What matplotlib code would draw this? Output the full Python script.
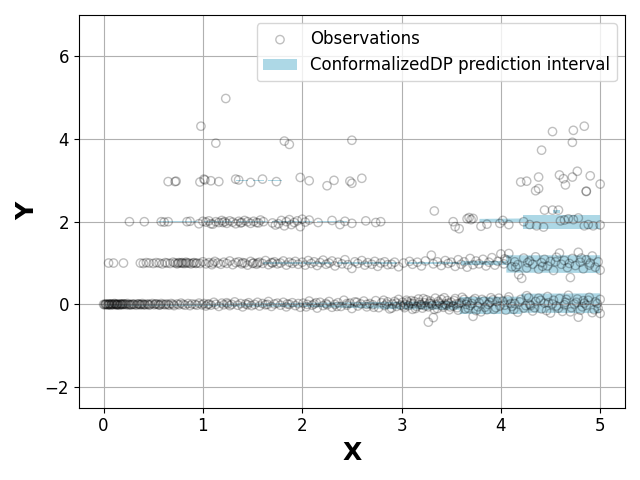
import numpy as np
import matplotlib
matplotlib.use("Agg")
import matplotlib.pyplot as plt

# observations, grouped by the level they sit on
obs_level0 = [
    (0.00, 0.00), (0.01, -0.01), (0.02, 0.01), (0.03, 0.00), (0.04, -0.01), (0.05, 0.01), (0.06, 0.00),
    (0.07, -0.02), (0.08, 0.01), (0.09, 0.00), (0.10, -0.01), (0.11, 0.02), (0.12, 0.00), (0.13, -0.01),
    (0.14, 0.01), (0.15, 0.00), (0.16, -0.02), (0.17, 0.01), (0.18, 0.00), (0.19, -0.01), (0.20, 0.01),
    (0.21, 0.00), (0.23, -0.01), (0.24, 0.02), (0.26, 0.00), (0.27, -0.01), (0.29, 0.01), (0.31, 0.00),
    (0.33, -0.02), (0.34, 0.01), (0.36, 0.00), (0.37, -0.01), (0.39, 0.02), (0.41, 0.00), (0.42, -0.01),
    (0.44, 0.01), (0.46, -0.02), (0.47, 0.00), (0.49, 0.02), (0.51, -0.01), (0.53, 0.01), (0.55, 0.00),
    (0.56, -0.02), (0.58, 0.02), (0.60, 0.00), (0.62, -0.01), (0.63, 0.01), (0.66, -0.02), (0.68, 0.02),
    (0.70, 0.00), (0.71, -0.03), (0.74, 0.01), (0.76, -0.01), (0.78, 0.03), (0.80, 0.00), (0.82, -0.02),
    (0.85, 0.02), (0.87, -0.03), (0.89, 0.01), (0.92, 0.00), (0.94, -0.02), (0.96, 0.03), (0.99, -0.01),
    (0.02, 0.00), (0.05, -0.01), (0.08, 0.00), (0.11, 0.01), (0.14, -0.01), (0.17, 0.00), (0.22, 0.01),
    (0.25, -0.01), (0.30, 0.00), (0.35, 0.01), (0.40, -0.01), (0.45, 0.00), (0.52, 0.01), (0.57, -0.01),
    (0.65, 0.00), (0.06, 0.01), (0.13, 0.00), (0.19, 0.01), (0.28, -0.01), (0.38, 0.00),
    (1.01, 0.02), (1.03, -0.04), (1.06, 0.01), (1.08, -0.02), (1.11, 0.05), (1.13, 0.00), (1.16, -0.05),
    (1.19, 0.03), (1.21, -0.01), (1.24, 0.04), (1.27, -0.03), (1.29, 0.00), (1.32, 0.06), (1.35, -0.02),
    (1.38, 0.02), (1.40, -0.06), (1.43, 0.01), (1.46, 0.04), (1.49, -0.03), (1.52, 0.00), (1.55, 0.05),
    (1.57, -0.04), (1.60, 0.02), (1.63, -0.01), (1.66, 0.07), (1.69, -0.05), (1.72, 0.01), (1.75, 0.03),
    (1.78, -0.02), (1.81, 0.05), (1.84, -0.06), (1.87, 0.00), (1.90, 0.04), (1.93, -0.03), (1.96, 0.02),
    (1.98, -0.07), (1.05, 0.00), (1.25, 0.01), (1.45, -0.01), (1.65, 0.00), (1.85, 0.01),
    (2.01, 0.03), (2.04, -0.06), (2.07, 0.08), (2.10, -0.02), (2.12, 0.01), (2.15, -0.09), (2.18, 0.05),
    (2.21, -0.03), (2.24, 0.02), (2.27, 0.07), (2.30, -0.07), (2.33, 0.00), (2.36, 0.04), (2.39, -0.05),
    (2.42, 0.10), (2.45, -0.02), (2.48, 0.03), (2.50, -0.10), (2.53, 0.06), (2.56, -0.04), (2.59, 0.01),
    (2.62, 0.08), (2.65, -0.06), (2.68, 0.02), (2.71, -0.01), (2.74, 0.09), (2.77, -0.08), (2.80, 0.04),
    (2.83, -0.03), (2.86, 0.06), (2.88, -0.11), (2.91, 0.01), (2.93, 0.07), (2.95, -0.05), (2.97, 0.12),
    (2.99, -0.02), (2.05, 0.00), (2.25, -0.01), (2.45, 0.02), (2.65, 0.00), (2.85, 0.01), (2.95, 0.03),
    (2.14, 0.04), (2.35, -0.05), (2.55, 0.05), (2.72, -0.07), (2.82, 0.10), (2.90, -0.09),
    (3.01, 0.05), (3.03, -0.08), (3.05, 0.10), (3.07, -0.03), (3.09, 0.02), (3.11, -0.12), (3.13, 0.07),
    (3.15, -0.05), (3.17, 0.13), (3.19, 0.00), (3.21, -0.09), (3.23, 0.04), (3.25, 0.11), (3.27, -0.43),
    (3.27, -0.06), (3.29, 0.08), (3.31, -0.02), (3.32, -0.32), (3.34, 0.15), (3.36, -0.10), (3.38, 0.03),
    (3.40, 0.12), (3.42, -0.07), (3.44, 0.01), (3.46, 0.09), (3.48, -0.13), (3.50, 0.05), (3.52, -0.04),
    (3.54, 0.14), (3.56, -0.08), (3.58, 0.02), (3.61, 0.17), (3.64, -0.11), (3.66, 0.06), (3.69, -0.03),
    (3.72, -0.29), (3.72, 0.10), (3.75, -0.15), (3.78, 0.04), (3.81, 0.12), (3.84, -0.07), (3.87, 0.00),
    (3.90, 0.16), (3.93, -0.12), (3.96, 0.07), (3.99, -0.04), (3.04, 0.00), (3.12, 0.02), (3.20, -0.01),
    (3.28, 0.03), (3.35, 0.00), (3.45, -0.02), (3.55, 0.01), (3.65, 0.00),
    (3.02, -0.04), (3.06, 0.06), (3.10, 0.09), (3.14, -0.10), (3.18, 0.05), (3.22, 0.14), (3.24, -0.04),
    (3.30, 0.02), (3.33, -0.12), (3.37, 0.07), (3.41, -0.03), (3.43, 0.16), (3.47, 0.03), (3.49, -0.06),
    (3.53, 0.09), (3.57, -0.14), (3.60, 0.04), (3.63, 0.12), (3.67, -0.09), (3.71, 0.02), (3.74, 0.14),
    (3.77, -0.06), (3.80, -0.18), (3.83, 0.08), (3.86, -0.13), (3.89, 0.05), (3.92, 0.11), (3.95, -0.08),
    (3.98, 0.15),
    (4.02, 0.08), (4.05, -0.14), (4.08, 0.18), (4.11, -0.05), (4.14, 0.02), (4.17, -0.19), (4.20, 0.12),
    (4.23, -0.09), (4.26, 0.21), (4.29, 0.00), (4.32, -0.16), (4.35, 0.07), (4.38, 0.15), (4.41, -0.11),
    (4.44, 0.03), (4.47, 0.19), (4.50, -0.21), (4.53, 0.10), (4.56, -0.04), (4.59, 0.14), (4.62, -0.17),
    (4.65, 0.05), (4.68, 0.22), (4.71, -0.08), (4.74, 0.01), (4.77, 0.13), (4.78, -0.31), (4.80, -0.14),
    (4.83, 0.09), (4.86, -0.02), (4.89, 0.17), (4.92, -0.20), (4.95, 0.06), (4.98, -0.10), (5.00, 0.12),
    (5.00, -0.22), (4.10, 0.02), (4.30, -0.03), (4.48, 0.04), (4.64, -0.01), (4.84, 0.03),
    (4.04, -0.02), (4.07, 0.11), (4.13, -0.12), (4.19, 0.06), (4.25, -0.03), (4.28, 0.16), (4.34, -0.08),
    (4.40, 0.10), (4.46, -0.15), (4.52, 0.01), (4.58, -0.09), (4.66, 0.12), (4.70, -0.18), (4.76, 0.05),
    (4.82, -0.06), (4.88, 0.10), (4.94, -0.13), (4.97, 0.02),
]

obs_level1 = [
    (0.05, 1.00), (0.10, 1.00), (0.20, 1.00),
    (0.37, 1.00), (0.40, 0.99), (0.43, 1.01), (0.46, 1.00), (0.50, 0.99), (0.53, 1.01), (0.56, 1.00),
    (0.59, 0.98), (0.62, 1.01), (0.64, 1.00), (0.67, 0.99), (0.70, 1.02), (0.72, 1.00), (0.74, 0.98),
    (0.76, 1.01), (0.78, 1.00), (0.80, 0.99), (0.83, 1.02), (0.86, 1.00), (0.88, 0.98), (0.91, 1.01),
    (0.94, 1.00), (0.97, 0.99), (0.75, 1.00), (0.79, 1.01), (0.82, 0.99), (0.84, 1.00), (0.90, 1.00),
    (0.93, 0.99),
    (1.00, 1.03), (1.03, 0.98), (1.06, 1.01), (1.09, 0.96), (1.12, 1.04), (1.15, 1.00), (1.18, 0.97),
    (1.21, 1.02), (1.24, 0.99), (1.27, 1.05), (1.30, 0.96), (1.33, 1.01), (1.36, 1.03), (1.39, 0.98),
    (1.42, 1.00), (1.45, 0.95), (1.48, 1.04), (1.51, 1.00), (1.54, 0.97), (1.57, 1.02), (1.60, 0.99),
    (1.63, 1.06), (1.66, 0.96), (1.69, 1.01), (1.72, 1.03), (1.75, 0.98), (1.78, 1.00), (1.81, 1.05),
    (1.84, 0.95), (1.87, 1.02), (1.90, 0.99), (1.93, 1.04), (1.96, 0.97), (1.10, 1.00), (1.40, 1.01),
    (1.50, 0.99), (1.55, 1.00), (1.70, 1.00),
    (2.00, 1.02), (2.03, 0.95), (2.06, 1.06), (2.09, 0.99), (2.12, 1.03), (2.15, 0.94), (2.18, 1.01),
    (2.21, 1.07), (2.24, 0.97), (2.27, 1.00), (2.30, 1.05), (2.33, 0.93), (2.36, 1.02), (2.40, 0.98),
    (2.43, 1.08), (2.46, 0.96), (2.50, 0.87), (2.53, 1.03), (2.56, 0.99), (2.60, 1.06), (2.63, 0.95),
    (2.66, 1.01), (2.70, 0.97), (2.73, 1.04), (2.76, 0.92), (2.79, 1.00), (2.83, 1.03), (2.86, 0.96),
    (2.90, 0.97), (2.93, 1.02), (2.97, 0.91),
    (3.02, 1.00), (3.08, 1.04), (3.11, 0.97), (3.16, 1.02), (3.20, 0.93), (3.24, 1.05), (3.30, 1.19),
    (3.32, 0.98), (3.36, 1.03), (3.40, 0.94), (3.44, 1.06), (3.47, 0.99), (3.50, 1.02), (3.54, 0.92),
    (3.57, 1.08), (3.60, 0.97), (3.63, 1.03), (3.66, 0.90), (3.69, 1.11), (3.72, 0.96), (3.75, 1.05),
    (3.78, 0.98), (3.82, 1.09), (3.85, 0.93), (3.88, 1.02), (3.91, 1.13), (3.94, 0.95), (3.97, 1.04),
    (4.00, 1.22), (4.03, 0.98), (4.06, 1.07), (4.08, 1.23), (4.11, 0.91), (4.14, 1.03), (4.17, 0.96),
    (4.18, 0.72), (4.21, 0.63), (4.23, 1.12), (4.26, 0.88), (4.29, 1.05), (4.32, 0.97), (4.35, 1.15),
    (4.38, 0.85), (4.41, 1.01), (4.44, 1.09), (4.47, 0.93), (4.50, 1.04), (4.53, 0.82), (4.56, 1.14),
    (4.59, 1.24), (4.61, 0.97), (4.64, 1.06), (4.67, 0.89), (4.70, 0.65), (4.72, 1.11), (4.75, 0.94),
    (4.78, 1.26), (4.80, 1.02), (4.83, 0.86), (4.86, 1.08), (4.89, 0.95), (4.92, 1.17), (4.95, 0.90),
    (4.98, 1.03), (5.00, 0.83),
    (4.04, 1.10), (4.15, 0.90), (4.27, 1.01), (4.42, 0.92), (4.55, 1.03), (4.69, 0.99), (4.81, 1.12),
    (4.90, 1.00),
]

obs_level2 = [
    (0.26, 2.00), (0.41, 2.00), (0.58, 2.00), (0.61, 1.99), (0.65, 2.00), (0.84, 2.00), (0.87, 2.01),
    (0.96, 1.95),
    (1.00, 2.01), (1.03, 1.99), (1.06, 2.02), (1.08, 1.95), (1.10, 1.94), (1.13, 2.00), (1.16, 1.98),
    (1.19, 2.03), (1.20, 1.98), (1.22, 2.00), (1.24, 1.96), (1.27, 2.02), (1.30, 1.99), (1.33, 1.95),
    (1.36, 2.01), (1.38, 1.97), (1.39, 1.98), (1.42, 2.03), (1.45, 2.00), (1.48, 1.96), (1.51, 2.01),
    (1.54, 1.98), (1.56, 1.97), (1.58, 2.04), (1.61, 2.00),
    (1.70, 1.97), (1.73, 1.92), (1.76, 1.95), (1.79, 2.03), (1.82, 1.90), (1.84, 2.00), (1.87, 2.05),
    (1.89, 1.93), (1.92, 1.98), (1.95, 2.02), (1.98, 1.88), (2.00, 2.06), (2.03, 1.99), (2.07, 2.04),
    (2.16, 1.98), (2.30, 2.03), (2.38, 1.93), (2.43, 2.01), (2.50, 1.96), (2.64, 2.02), (2.74, 1.98),
    (2.79, 2.00),
    (3.33, 2.26), (3.52, 2.00), (3.54, 1.88), (3.58, 1.83), (3.66, 2.07), (3.68, 2.10), (3.70, 2.05),
    (3.72, 2.08), (3.80, 1.89), (3.86, 1.94), (3.99, 1.96), (4.08, 1.93), (4.02, 2.03),
    (4.23, 2.00), (4.29, 1.93), (4.36, 1.90), (4.43, 1.87), (4.44, 2.28), (4.52, 2.28), (4.58, 2.28),
    (4.60, 2.02), (4.64, 2.04), (4.68, 2.07), (4.73, 2.05), (4.78, 2.09), (4.84, 1.90), (4.88, 1.93),
    (4.93, 1.90), (5.00, 1.92),
]

obs_level3 = [
    (0.65, 2.97), (0.72, 2.97), (0.73, 2.98), (0.97, 2.96), (1.01, 3.03), (1.02, 3.01), (1.08, 2.99),
    (1.16, 2.97), (1.33, 3.03), (1.36, 3.01), (1.48, 2.95), (1.60, 3.03), (1.74, 2.97), (1.98, 3.07),
    (2.07, 2.99), (2.25, 2.87), (2.32, 3.00), (2.48, 2.98), (2.50, 2.93), (2.60, 3.05),
    (4.20, 2.96), (4.26, 2.98), (4.38, 3.08), (4.35, 2.75), (4.38, 2.80), (4.59, 3.13), (4.63, 3.04),
    (4.65, 2.89), (4.72, 3.08), (4.77, 3.22), (4.90, 3.11), (4.86, 2.74), (4.86, 2.73), (5.00, 2.91),
]

obs_level4 = [
    (0.98, 4.31), (1.13, 3.90), (1.23, 4.98), (1.82, 3.95), (1.87, 3.87), (2.50, 3.97),
    (4.41, 3.73), (4.52, 4.18), (4.72, 3.92), (4.73, 4.21), (4.84, 4.31),
]

# prediction interval pieces: (x start, x end, lower start, upper start, lower end, upper end)
interval_pieces = [
    # around 0
    (0.00, 1.00, -0.015, 0.015, -0.03, 0.03),
    (1.00, 2.00, -0.03, 0.03, -0.05, 0.05),
    (2.00, 2.80, -0.05, 0.05, -0.09, 0.07),
    (2.80, 3.58, -0.10, 0.07, -0.12, 0.09),
    (3.58, 4.20, -0.22, 0.19, -0.22, 0.20),
    (4.20, 5.00, -0.19, 0.27, -0.20, 0.28),
    # around 1
    (0.40, 0.90, 0.99, 1.01, 0.99, 1.01),
    (0.95, 1.55, 0.99, 1.01, 0.99, 1.01),
    (1.60, 2.30, 0.985, 1.015, 0.985, 1.015),
    (2.35, 2.95, 0.985, 1.015, 0.985, 1.015),
    (3.05, 3.58, 0.98, 1.02, 0.98, 1.02),
    (3.60, 4.05, 0.96, 1.04, 0.96, 1.04),
    (4.05, 5.00, 0.78, 1.20, 0.77, 1.20),
    # around 2
    (0.55, 0.95, 1.99, 2.01, 1.99, 2.01),
    (1.00, 1.30, 1.99, 2.01, 1.99, 2.01),
    (1.35, 1.65, 1.99, 2.01, 1.99, 2.01),
    (1.70, 2.10, 1.985, 2.015, 1.985, 2.015),
    (2.15, 2.45, 1.985, 2.015, 1.985, 2.015),
    (3.78, 4.22, 2.00, 2.08, 2.00, 2.09),
    (4.22, 5.00, 1.82, 2.17, 1.82, 2.17),
    (4.53, 4.60, 2.22, 2.29, 2.22, 2.29),
    # around 3
    (1.33, 1.45, 2.99, 3.01, 2.99, 3.01),
    (1.50, 1.62, 2.99, 3.01, 2.99, 3.01),
    (1.66, 1.80, 2.99, 3.01, 2.99, 3.01),
]

observations = obs_level0 + obs_level1 + obs_level2 + obs_level3 + obs_level4
obs_x = np.array([p[0] for p in observations])
obs_y = np.array([p[1] for p in observations])

fig, ax = plt.subplots(figsize=(6.4, 4.8), dpi=100)

ax.scatter(obs_x, obs_y, facecolors='none', edgecolors='black', alpha=0.25, s=36,
           zorder=3, label='Observations')

first = True
for x0, x1, lo0, hi0, lo1, hi1 in interval_pieces:
    ax.fill_between([x0, x1], [lo0, lo1], [hi0, hi1], color='lightblue', linewidth=0,
                    label='ConformalizedDP prediction interval' if first else None)
    first = False

ax.set_ylim(-2.5, 7)
ax.set_xlabel('X', fontsize=18, fontweight='bold')
ax.set_ylabel('Y', fontsize=18, fontweight='bold')
ax.tick_params(labelsize=12)
ax.grid(True)
ax.legend(loc='upper right', fontsize=12)

plt.tight_layout()
plt.savefig('out.png')
